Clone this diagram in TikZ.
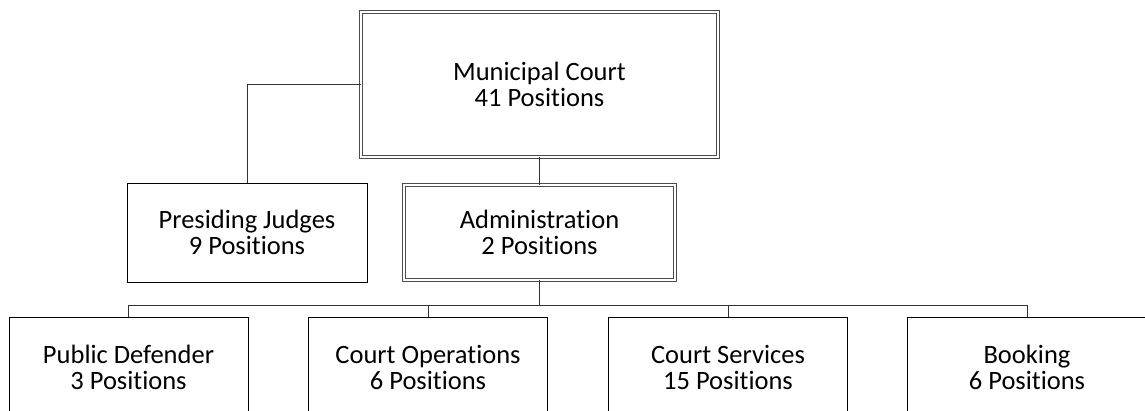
\documentclass[tikz,border=0pt]{standalone}
\usepackage{fontspec}
\setmainfont{Carlito}[RawFeature=-liga]
\usepackage{tikz}

\begin{document}
\begin{tikzpicture}[
			x=1pt, y=1pt,
			% Define the style for the boxes
			every node/.style={draw, line width=0.9pt, align=center, inner sep=0pt,
				font=\fontsize{26.5}{26}\selectfont},
			dblbox/.style={draw=black!70, double=white, double distance=1.6pt, line width=0.8pt},
			link/.style={line width=0.9pt, draw=black!80}
			]
			
			\useasboundingbox (0,0) rectangle (1145,-411);
			\clip (0,0) rectangle (1145,-411);
			
			\node (mun) at (539.5, -84.5) [dblbox, minimum width=357, minimum height=145] {Municipal Court\\41 Positions};
			\node (pres) at (247, -232.5) [minimum width=240, minimum height=99] {Presiding Judges\\9 Positions};
			\node (adm) at (539.5, -232.5) [dblbox, minimum width=271, minimum height=95] {Administration\\2 Positions};
			
			\node (pd) at (128.5, -367) [minimum width=239, minimum height=100] {Public Defender\\3 Positions};
			\node (ops) at (428, -367) [minimum width=239, minimum height=100] {Court Operations\\6 Positions};
			\node (srv) at (728, -367) [minimum width=239, minimum height=100] {Court Services\\15 Positions};
			\node (book) at (1027, -367) [minimum width=239, minimum height=100] {Booking\\6 Positions};
			
			\coordinate (bus) at (539.5, -305);
			
			\draw[link] (mun.west) -| (pres.north);
			\draw[link] (mun.south) -- (adm.north);
			
			\draw[link] (adm.south) -- (bus);
			\draw[link] (bus) -| (pd.north);
			\draw[link] (bus) -| (ops.north);
			\draw[link] (bus) -| (srv.north);
			\draw[link] (bus) -| (book.north);
			
		\end{tikzpicture}
\end{document}
